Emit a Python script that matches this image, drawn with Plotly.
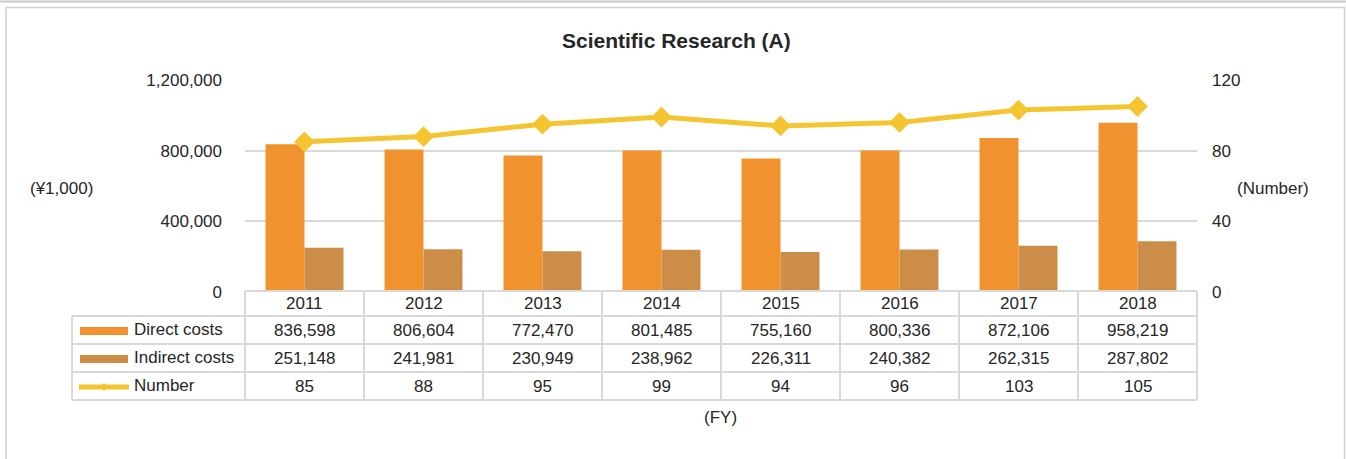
import plotly.graph_objects as go

years = ["2011", "2012", "2013", "2014", "2015", "2016", "2017", "2018"]
direct_costs = [836598, 806604, 772470, 801485, 755160, 800336, 872106, 958219]
indirect_costs = [251148, 241981, 230949, 238962, 226311, 240382, 262315, 287802]
number = [85, 88, 95, 99, 94, 96, 103, 105]
left_ticks = [0, 400000, 800000, 1200000]
right_ticks = [0, 40, 80, 120]

C_DIRECT = "#F0932F"
C_INDIRECT = "#CB8D47"
C_LINE = "#F5C531"
C_GRID = "#D9D9D9"
C_TEXT = "#262626"
FONT = "Liberation Sans, Arial, sans-serif"

W, H = 1346, 459
PX0, PX1, PY0, PY1 = 245, 1197, 80, 292  # plot area in pixels


def px(x):
    return (x - PX0) / (PX1 - PX0)


def py(y):
    return (PY1 - y) / (PY1 - PY0)


fig = go.Figure()
fig.add_trace(go.Bar(x=years, y=direct_costs, name="Direct costs",
                     marker=dict(color=C_DIRECT, line=dict(width=0)), yaxis="y"))
fig.add_trace(go.Bar(x=years, y=indirect_costs, name="Indirect costs",
                     marker=dict(color=C_INDIRECT, line=dict(width=0)), yaxis="y"))
fig.add_trace(go.Scatter(x=years, y=number, name="Number", mode="lines+markers",
                         line=dict(color=C_LINE, width=5),
                         marker=dict(symbol="diamond", size=16, color=C_LINE),
                         yaxis="y2"))

shapes = []
annotations = []

# outer frame
shapes.append(dict(type="line", xref="paper", yref="paper", x0=px(0), x1=px(W), y0=py(1.5), y1=py(1.5),
                   line=dict(color="#C8C8C8", width=2)))
shapes.append(dict(type="rect", xref="paper", yref="paper", x0=px(6), x1=px(1344.5), y0=py(7.5), y1=py(470),
                   line=dict(color="#D0D0D0", width=1.5), layer="below"))

# table grid
row_y = [291, 316, 344, 372, 400]
col_x = [PX0 + i * (PX1 - PX0) / len(years) for i in range(len(years) + 1)]
LINE = dict(color=C_GRID, width=2)
shapes.append(dict(type="line", xref="paper", yref="paper", x0=px(PX0), x1=px(PX1), y0=py(291), y1=py(291), line=LINE))
for yy in row_y[1:]:
    shapes.append(dict(type="line", xref="paper", yref="paper", x0=px(72), x1=px(PX1), y0=py(yy), y1=py(yy), line=LINE))
shapes.append(dict(type="line", xref="paper", yref="paper", x0=px(72), x1=px(72), y0=py(316), y1=py(400), line=LINE))
for xx in col_x:
    shapes.append(dict(type="line", xref="paper", yref="paper", x0=px(xx), x1=px(xx), y0=py(291), y1=py(400), line=LINE))

# legend keys in table
shapes.append(dict(type="rect", xref="paper", yref="paper", x0=px(80), x1=px(128), y0=py(327), y1=py(335),
                   line=dict(width=0), fillcolor=C_DIRECT))
shapes.append(dict(type="rect", xref="paper", yref="paper", x0=px(80), x1=px(128), y0=py(355), y1=py(363),
                   line=dict(width=0), fillcolor=C_INDIRECT))
shapes.append(dict(type="line", xref="paper", yref="paper", x0=px(79), x1=px(129), y0=py(387), y1=py(387),
                   line=dict(color=C_LINE, width=5)))
shapes.append(dict(type="path", xref="paper", yref="paper",
                   path=f"M {px(104)},{py(383)} L {px(108)},{py(387)} L {px(104)},{py(391)} L {px(100)},{py(387)} Z",
                   fillcolor=C_LINE, line=dict(width=0)))

TF = dict(family=FONT, size=17, color=C_TEXT)
row_centers = [303.5, 330, 358, 386]
labels = ["Direct costs", "Indirect costs", "Number"]
series = [direct_costs, indirect_costs, number]
for i, yr in enumerate(years):
    cx = (col_x[i] + col_x[i + 1]) / 2
    annotations.append(dict(xref="paper", yref="paper", x=px(cx), y=py(row_centers[0]), text=yr,
                            showarrow=False, font=TF, xanchor="center", yanchor="middle"))
    for r, s in enumerate(series):
        annotations.append(dict(xref="paper", yref="paper", x=px(cx), y=py(row_centers[r + 1]),
                                text=f"{s[i]:,}", showarrow=False, font=TF,
                                xanchor="center", yanchor="middle"))
for r, lab in enumerate(labels):
    annotations.append(dict(xref="paper", yref="paper", x=px(132), y=py(row_centers[r + 1] - 1), text=lab,
                            showarrow=False, font=TF, xanchor="left", yanchor="middle"))

annotations.append(dict(xref="paper", yref="paper", x=px(61), y=py(188), text="(¥1,000)",
                        showarrow=False, font=TF, xanchor="center", yanchor="middle"))
annotations.append(dict(xref="paper", yref="paper", x=px(1273), y=py(188), text="(Number)",
                        showarrow=False, font=TF, xanchor="center", yanchor="middle"))
annotations.append(dict(xref="paper", yref="paper", x=px(720), y=py(417), text="(FY)",
                        showarrow=False, font=TF, xanchor="center", yanchor="middle"))
annotations.append(dict(xref="paper", yref="paper", x=px(676), y=py(40), text="<b>Scientific Research (A)</b>",
                        showarrow=False, font=dict(family=FONT, size=21, color=C_TEXT),
                        xanchor="center", yanchor="middle"))

fig.update_layout(
    width=W, height=H,
    margin=dict(l=PX0, r=W - PX1, t=PY0, b=H - PY1, pad=0),
    paper_bgcolor="white", plot_bgcolor="white",
    barmode="group", bargap=0.345, bargroupgap=0,
    showlegend=False,
    font=dict(family=FONT, size=17, color=C_TEXT),
    xaxis=dict(type="category", showticklabels=False, showgrid=False, zeroline=False,
               showline=False, ticks="", range=[-0.5, len(years) - 0.5]),
    yaxis=dict(range=[0, 1200000], tickvals=left_ticks, ticktext=[f"{v:,}" for v in left_ticks],
               showgrid=True, gridcolor=C_GRID, gridwidth=2, zeroline=False, showline=False,
               ticks="", ticklabelstandoff=22, tickfont=TF),
    yaxis2=dict(range=[0, 120], tickvals=right_ticks, overlaying="y", side="right",
                showgrid=False, zeroline=False, showline=False, ticks="",
                ticklabelstandoff=14, tickfont=TF),
    shapes=shapes, annotations=annotations,
)

fig.write_html("out.html", config={"displayModeBar": False},
               post_script="document.body.style.margin='0';document.body.style.overflow='hidden';")
